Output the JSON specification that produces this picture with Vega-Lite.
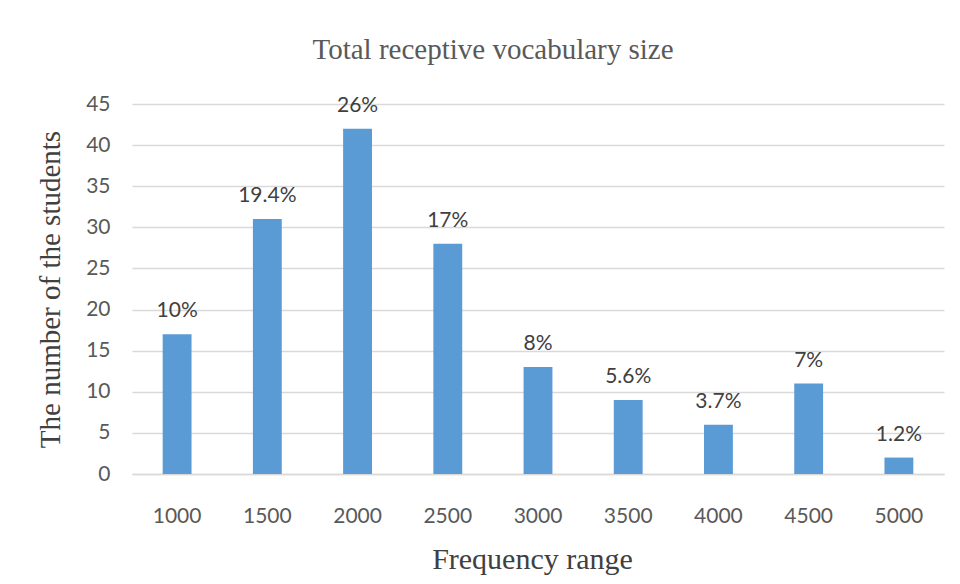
{
  "$schema": "https://vega.github.io/schema/vega-lite/v6.json",
  "autosize": "none",
  "width": 812,
  "height": 370,
  "padding": {"left": 132, "top": 104, "right": 16, "bottom": 110},
  "background": "white",
  "data": {"values": [
    {"range": "1000", "students": 17, "pct": "10%"},
    {"range": "1500", "students": 31, "pct": "19.4%"},
    {"range": "2000", "students": 42, "pct": "26%"},
    {"range": "2500", "students": 28, "pct": "17%"},
    {"range": "3000", "students": 13, "pct": "8%"},
    {"range": "3500", "students": 9, "pct": "5.6%"},
    {"range": "4000", "students": 6, "pct": "3.7%"},
    {"range": "4500", "students": 11, "pct": "7%"},
    {"range": "5000", "students": 2, "pct": "1.2%"}
  ]},
  "title": {
    "text": "Total receptive vocabulary size",
    "font": "Liberation Serif",
    "fontSize": 29,
    "fontWeight": "normal",
    "color": "#595959",
    "anchor": "middle",
    "baseline": "alphabetic",
    "dx": -45,
    "offset": 5
  },
  "encoding": {
    "x": {
      "field": "range", "type": "ordinal", "sort": null,
      "scale": {"paddingInner": 0.68, "paddingOuter": 0.34},
      "axis": {
        "title": "Frequency range",
        "titleFont": "Liberation Serif", "titleFontSize": 30, "titleFontWeight": "normal", "titleColor": "#404040",
        "titlePadding": 18, "titleX": 400,
        "labelFont": "Lato", "labelFontSize": 21, "labelColor": "#595959", "labelPadding": 31, "labelAngle": 0,
        "ticks": false, "domainColor": "#D9D9D9", "domainWidth": 1.5
      }
    },
    "y": {
      "field": "students", "type": "quantitative",
      "scale": {"domain": [0, 45]},
      "axis": {
        "title": "The number of the students",
        "values": [0, 5, 10, 15, 20, 25, 30, 35, 40, 45],
        "titleFont": "Liberation Serif", "titleFontSize": 29, "titleFontWeight": "normal", "titleColor": "#404040",
        "titlePadding": 20,
        "labelFont": "Lato", "labelFontSize": 21, "labelColor": "#595959", "labelPadding": 22,
        "ticks": false, "domain": false,
        "gridColor": "#D9D9D9", "gridWidth": 1.5
      }
    }
  },
  "layer": [
    {"mark": {"type": "bar", "color": "#5B9BD5"}},
    {"mark": {"type": "text", "baseline": "alphabetic", "dy": -17, "font": "Lato", "fontSize": 21, "color": "#404040"},
     "encoding": {"text": {"field": "pct"}}}
  ],
  "config": {"view": {"stroke": null}}
}
